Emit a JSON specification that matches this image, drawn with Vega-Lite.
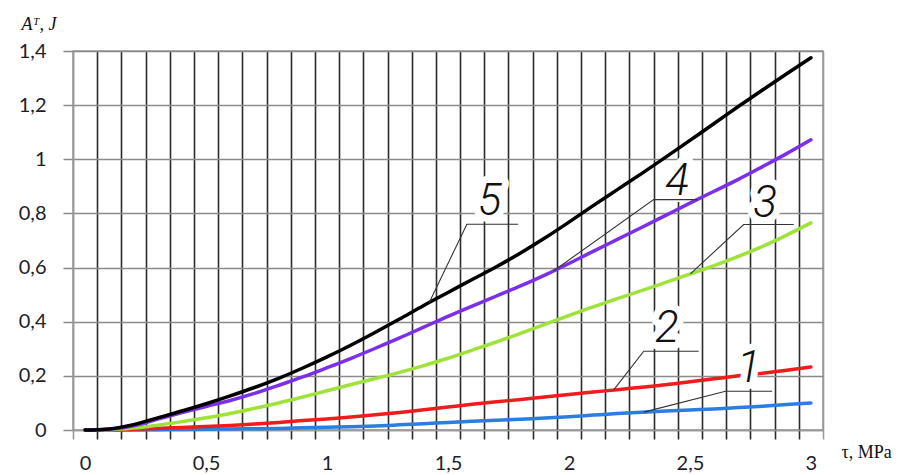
{
  "$schema": "https://vega.github.io/schema/vega-lite/v6.json",
  "width": 750,
  "height": 379,
  "autosize": {"type": "none"},
  "padding": {"left": 73, "top": 51, "right": 81, "bottom": 45},
  "background": "white",
  "config": {
    "view": {"stroke": "#9a9a9a", "strokeWidth": 1.5}
  },
  "datasets": {
    "curves": [
      {"curve": "1", "tau": 0.0, "A": 0.0},
      {"curve": "1", "tau": 0.1, "A": 0.0},
      {"curve": "1", "tau": 0.2, "A": 0.0},
      {"curve": "1", "tau": 0.3, "A": 0.001},
      {"curve": "1", "tau": 0.4, "A": 0.002},
      {"curve": "1", "tau": 0.5, "A": 0.003},
      {"curve": "1", "tau": 0.6, "A": 0.004},
      {"curve": "1", "tau": 0.7, "A": 0.005},
      {"curve": "1", "tau": 0.8, "A": 0.006},
      {"curve": "1", "tau": 0.9, "A": 0.008},
      {"curve": "1", "tau": 1.0, "A": 0.010},
      {"curve": "1", "tau": 1.1, "A": 0.012},
      {"curve": "1", "tau": 1.2, "A": 0.015},
      {"curve": "1", "tau": 1.3, "A": 0.019},
      {"curve": "1", "tau": 1.4, "A": 0.023},
      {"curve": "1", "tau": 1.5, "A": 0.028},
      {"curve": "1", "tau": 1.6, "A": 0.032},
      {"curve": "1", "tau": 1.7, "A": 0.036},
      {"curve": "1", "tau": 1.8, "A": 0.040},
      {"curve": "1", "tau": 1.9, "A": 0.044},
      {"curve": "1", "tau": 2.0, "A": 0.049},
      {"curve": "1", "tau": 2.1, "A": 0.055},
      {"curve": "1", "tau": 2.2, "A": 0.061},
      {"curve": "1", "tau": 2.3, "A": 0.066},
      {"curve": "1", "tau": 2.4, "A": 0.070},
      {"curve": "1", "tau": 2.5, "A": 0.074},
      {"curve": "1", "tau": 2.6, "A": 0.078},
      {"curve": "1", "tau": 2.7, "A": 0.083},
      {"curve": "1", "tau": 2.8, "A": 0.088},
      {"curve": "1", "tau": 2.9, "A": 0.094},
      {"curve": "1", "tau": 3.0, "A": 0.100},
      {"curve": "2", "tau": 0.0, "A": 0.0},
      {"curve": "2", "tau": 0.1, "A": 0.0},
      {"curve": "2", "tau": 0.2, "A": 0.003},
      {"curve": "2", "tau": 0.3, "A": 0.006},
      {"curve": "2", "tau": 0.4, "A": 0.009},
      {"curve": "2", "tau": 0.5, "A": 0.013},
      {"curve": "2", "tau": 0.6, "A": 0.017},
      {"curve": "2", "tau": 0.7, "A": 0.022},
      {"curve": "2", "tau": 0.8, "A": 0.028},
      {"curve": "2", "tau": 0.9, "A": 0.035},
      {"curve": "2", "tau": 1.0, "A": 0.041},
      {"curve": "2", "tau": 1.1, "A": 0.048},
      {"curve": "2", "tau": 1.2, "A": 0.056},
      {"curve": "2", "tau": 1.3, "A": 0.065},
      {"curve": "2", "tau": 1.4, "A": 0.075},
      {"curve": "2", "tau": 1.5, "A": 0.085},
      {"curve": "2", "tau": 1.6, "A": 0.095},
      {"curve": "2", "tau": 1.7, "A": 0.104},
      {"curve": "2", "tau": 1.8, "A": 0.113},
      {"curve": "2", "tau": 1.9, "A": 0.122},
      {"curve": "2", "tau": 2.0, "A": 0.131},
      {"curve": "2", "tau": 2.1, "A": 0.140},
      {"curve": "2", "tau": 2.2, "A": 0.149},
      {"curve": "2", "tau": 2.3, "A": 0.158},
      {"curve": "2", "tau": 2.4, "A": 0.167},
      {"curve": "2", "tau": 2.5, "A": 0.178},
      {"curve": "2", "tau": 2.6, "A": 0.189},
      {"curve": "2", "tau": 2.7, "A": 0.200},
      {"curve": "2", "tau": 2.8, "A": 0.210},
      {"curve": "2", "tau": 2.9, "A": 0.221},
      {"curve": "2", "tau": 3.0, "A": 0.233},
      {"curve": "3", "tau": 0.0, "A": 0.0},
      {"curve": "3", "tau": 0.1, "A": 0.001},
      {"curve": "3", "tau": 0.2, "A": 0.007},
      {"curve": "3", "tau": 0.3, "A": 0.018},
      {"curve": "3", "tau": 0.4, "A": 0.031},
      {"curve": "3", "tau": 0.5, "A": 0.045},
      {"curve": "3", "tau": 0.6, "A": 0.061},
      {"curve": "3", "tau": 0.7, "A": 0.080},
      {"curve": "3", "tau": 0.8, "A": 0.100},
      {"curve": "3", "tau": 0.9, "A": 0.122},
      {"curve": "3", "tau": 1.0, "A": 0.145},
      {"curve": "3", "tau": 1.1, "A": 0.168},
      {"curve": "3", "tau": 1.2, "A": 0.190},
      {"curve": "3", "tau": 1.3, "A": 0.213},
      {"curve": "3", "tau": 1.4, "A": 0.238},
      {"curve": "3", "tau": 1.5, "A": 0.265},
      {"curve": "3", "tau": 1.6, "A": 0.295},
      {"curve": "3", "tau": 1.7, "A": 0.325},
      {"curve": "3", "tau": 1.8, "A": 0.357},
      {"curve": "3", "tau": 1.9, "A": 0.390},
      {"curve": "3", "tau": 2.0, "A": 0.423},
      {"curve": "3", "tau": 2.1, "A": 0.455},
      {"curve": "3", "tau": 2.2, "A": 0.485},
      {"curve": "3", "tau": 2.3, "A": 0.515},
      {"curve": "3", "tau": 2.4, "A": 0.545},
      {"curve": "3", "tau": 2.5, "A": 0.576},
      {"curve": "3", "tau": 2.6, "A": 0.607},
      {"curve": "3", "tau": 2.7, "A": 0.641},
      {"curve": "3", "tau": 2.8, "A": 0.678},
      {"curve": "3", "tau": 2.9, "A": 0.720},
      {"curve": "3", "tau": 3.0, "A": 0.765},
      {"curve": "4", "tau": 0.0, "A": 0.0},
      {"curve": "4", "tau": 0.1, "A": 0.003},
      {"curve": "4", "tau": 0.2, "A": 0.016},
      {"curve": "4", "tau": 0.3, "A": 0.040},
      {"curve": "4", "tau": 0.4, "A": 0.064},
      {"curve": "4", "tau": 0.5, "A": 0.087},
      {"curve": "4", "tau": 0.6, "A": 0.109},
      {"curve": "4", "tau": 0.7, "A": 0.135},
      {"curve": "4", "tau": 0.8, "A": 0.165},
      {"curve": "4", "tau": 0.9, "A": 0.196},
      {"curve": "4", "tau": 1.0, "A": 0.230},
      {"curve": "4", "tau": 1.1, "A": 0.265},
      {"curve": "4", "tau": 1.2, "A": 0.302},
      {"curve": "4", "tau": 1.3, "A": 0.340},
      {"curve": "4", "tau": 1.4, "A": 0.380},
      {"curve": "4", "tau": 1.5, "A": 0.420},
      {"curve": "4", "tau": 1.6, "A": 0.458},
      {"curve": "4", "tau": 1.7, "A": 0.495},
      {"curve": "4", "tau": 1.8, "A": 0.532},
      {"curve": "4", "tau": 1.9, "A": 0.572},
      {"curve": "4", "tau": 2.0, "A": 0.615},
      {"curve": "4", "tau": 2.1, "A": 0.660},
      {"curve": "4", "tau": 2.2, "A": 0.704},
      {"curve": "4", "tau": 2.3, "A": 0.748},
      {"curve": "4", "tau": 2.4, "A": 0.793},
      {"curve": "4", "tau": 2.5, "A": 0.838},
      {"curve": "4", "tau": 2.6, "A": 0.882},
      {"curve": "4", "tau": 2.7, "A": 0.926},
      {"curve": "4", "tau": 2.8, "A": 0.973},
      {"curve": "4", "tau": 2.9, "A": 1.021},
      {"curve": "4", "tau": 3.0, "A": 1.072},
      {"curve": "5", "tau": 0.0, "A": 0.0},
      {"curve": "5", "tau": 0.1, "A": 0.004},
      {"curve": "5", "tau": 0.2, "A": 0.020},
      {"curve": "5", "tau": 0.3, "A": 0.045},
      {"curve": "5", "tau": 0.4, "A": 0.070},
      {"curve": "5", "tau": 0.5, "A": 0.097},
      {"curve": "5", "tau": 0.6, "A": 0.126},
      {"curve": "5", "tau": 0.7, "A": 0.157},
      {"curve": "5", "tau": 0.8, "A": 0.191},
      {"curve": "5", "tau": 0.9, "A": 0.229},
      {"curve": "5", "tau": 1.0, "A": 0.270},
      {"curve": "5", "tau": 1.1, "A": 0.314},
      {"curve": "5", "tau": 1.2, "A": 0.361},
      {"curve": "5", "tau": 1.3, "A": 0.410},
      {"curve": "5", "tau": 1.4, "A": 0.460},
      {"curve": "5", "tau": 1.5, "A": 0.508},
      {"curve": "5", "tau": 1.6, "A": 0.556},
      {"curve": "5", "tau": 1.7, "A": 0.603},
      {"curve": "5", "tau": 1.8, "A": 0.654},
      {"curve": "5", "tau": 1.9, "A": 0.709},
      {"curve": "5", "tau": 2.0, "A": 0.768},
      {"curve": "5", "tau": 2.1, "A": 0.829},
      {"curve": "5", "tau": 2.2, "A": 0.888},
      {"curve": "5", "tau": 2.3, "A": 0.947},
      {"curve": "5", "tau": 2.4, "A": 1.008},
      {"curve": "5", "tau": 2.5, "A": 1.070},
      {"curve": "5", "tau": 2.6, "A": 1.132},
      {"curve": "5", "tau": 2.7, "A": 1.195},
      {"curve": "5", "tau": 2.8, "A": 1.256},
      {"curve": "5", "tau": 2.9, "A": 1.316},
      {"curve": "5", "tau": 3.0, "A": 1.375}
    ],
    "labels": [
      {"label": "5", "tau": 1.672, "A": 0.842},
      {"label": "4", "tau": 2.447, "A": 0.916},
      {"label": "3", "tau": 2.811, "A": 0.836},
      {"label": "2", "tau": 2.405, "A": 0.373},
      {"label": "1", "tau": 2.743, "A": 0.226}
    ],
    "leaders": [
      {"label": "5", "k": 0, "tau": 1.422, "A": 0.47},
      {"label": "5", "k": 1, "tau": 1.578, "A": 0.76},
      {"label": "5", "k": 2, "tau": 1.79, "A": 0.76},
      {"label": "4", "k": 0, "tau": 1.937, "A": 0.588},
      {"label": "4", "k": 1, "tau": 2.35, "A": 0.851},
      {"label": "4", "k": 2, "tau": 2.53, "A": 0.851},
      {"label": "3", "k": 0, "tau": 2.502, "A": 0.577},
      {"label": "3", "k": 1, "tau": 2.722, "A": 0.759},
      {"label": "3", "k": 2, "tau": 2.929, "A": 0.759},
      {"label": "2", "k": 0, "tau": 2.185, "A": 0.148},
      {"label": "2", "k": 1, "tau": 2.309, "A": 0.291},
      {"label": "2", "k": 2, "tau": 2.536, "A": 0.291},
      {"label": "1", "k": 0, "tau": 2.309, "A": 0.066},
      {"label": "1", "k": 1, "tau": 2.647, "A": 0.143},
      {"label": "1", "k": 2, "tau": 2.84, "A": 0.143}
    ]
  },
  "layer": [
    {
      "data": {"name": "curves"},
      "mark": {"type": "line", "interpolate": "monotone", "strokeWidth": 3.5, "strokeCap": "round"},
      "encoding": {
        "x": {
          "field": "tau", "type": "quantitative",
          "scale": {"domain": [-0.05, 3.05], "nice": false, "zero": false},
          "axis": {
            "values": [-0.05, 0.05, 0.15, 0.25, 0.35, 0.45, 0.55, 0.65, 0.75, 0.85, 0.95, 1.05, 1.15, 1.25, 1.35, 1.45, 1.55, 1.65, 1.75, 1.85, 1.95, 2.05, 2.15, 2.25, 2.35, 2.45, 2.55, 2.65, 2.75, 2.85, 2.95, 3.05],
            "tickCount": 60,
            "grid": true,
            "gridColor": {"condition": {"test": "datum.value < 0 || datum.value > 3", "value": "#9a9a9a"}, "value": "#2b2b2b"},
            "gridWidth": 1.6,
            "gridOpacity": 1,
            "ticks": true,
            "tickSize": 9,
            "tickWidth": 1.6,
            "tickColor": {"condition": {"test": "datum.value < 0 || datum.value > 3", "value": "#9a9a9a"}, "value": "#2b2b2b"},
            "domainColor": "#9a9a9a",
            "domainWidth": 1.5,
            "labelExpr": "(round((datum.value + 0.05) * 10) % 5 == 0 && datum.value < 3) ? replace(toString(round((datum.value + 0.05) * 10) / 10), '.', ',') : ''",
            "labelOffset": 12.1,
            "labelAlign": "center",
            "labelOverlap": false,
            "labelBound": false,
            "labelFlush": false,
            "labelFont": "Lato",
            "labelFontSize": 20,
            "labelColor": "#1d1d2b",
            "labelPadding": 14,
            "title": "τ, MPa",
            "titleFont": "Liberation Serif",
            "titleFontSize": 18,
            "titleFontWeight": "normal",
            "titleColor": "#111",
            "titleAnchor": "start",
            "titleAlign": "left",
            "titleBaseline": "alphabetic",
            "titleX": 768,
            "titleY": 27
          }
        },
        "y": {
          "field": "A", "type": "quantitative",
          "scale": {"domain": [0, 1.4], "nice": false},
          "axis": {
            "values": [0, 0.2, 0.4, 0.6, 0.8, 1.0, 1.2, 1.4],
            "tickCount": 20,
            "grid": true,
            "gridColor": "#8a8a8a",
            "gridWidth": 1.5,
            "gridOpacity": 1,
            "ticks": true,
            "tickSize": 10,
            "tickWidth": 1.5,
            "tickColor": "#8a8a8a",
            "domainColor": "#9a9a9a",
            "domainWidth": 1.5,
            "labelExpr": "replace(toString(round(datum.value * 10) / 10), '.', ',')",
            "labelFont": "Lato",
            "labelFontSize": 20,
            "labelColor": "#1d1d2b",
            "labelPadding": 17,
            "title": "Aᵀ, J",
            "titleFont": "Liberation Serif",
            "titleFontStyle": "italic",
            "titleFontSize": 18,
            "titleFontWeight": "normal",
            "titleColor": "#111",
            "titleAngle": 0,
            "titleAlign": "left",
            "titleBaseline": "alphabetic",
            "titleX": -52,
            "titleY": -22
          }
        },
        "color": {
          "field": "curve", "type": "nominal",
          "scale": {"domain": ["1", "2", "3", "4", "5"], "range": ["#2a7de1", "#f01c1c", "#9fe23a", "#7b2fe8", "#000000"]},
          "legend": null
        },
        "order": {"field": "tau", "type": "quantitative"}
      }
    },
    {
      "data": {"name": "labels"},
      "mark": {"type": "text", "font": "Roboto", "fontStyle": "italic", "fontSize": 44, "fontWeight": 300, "stroke": "white", "strokeWidth": 14, "strokeJoin": "round", "fill": "white", "align": "center", "baseline": "middle"},
      "encoding": {
        "x": {"field": "tau", "type": "quantitative"},
        "y": {"field": "A", "type": "quantitative"},
        "text": {"field": "label"}
      }
    },
    {
      "data": {"name": "leaders"},
      "mark": {"type": "line", "color": "#333333", "strokeWidth": 1.1, "interpolate": "linear"},
      "encoding": {
        "x": {"field": "tau", "type": "quantitative"},
        "y": {"field": "A", "type": "quantitative"},
        "detail": {"field": "label"},
        "order": {"field": "k", "type": "quantitative"}
      }
    },
    {
      "data": {"name": "labels"},
      "mark": {"type": "text", "font": "Roboto", "fontStyle": "italic", "fontSize": 44, "fontWeight": 300, "fill": "#111", "align": "center", "baseline": "middle"},
      "encoding": {
        "x": {"field": "tau", "type": "quantitative"},
        "y": {"field": "A", "type": "quantitative"},
        "text": {"field": "label"}
      }
    }
  ]
}
